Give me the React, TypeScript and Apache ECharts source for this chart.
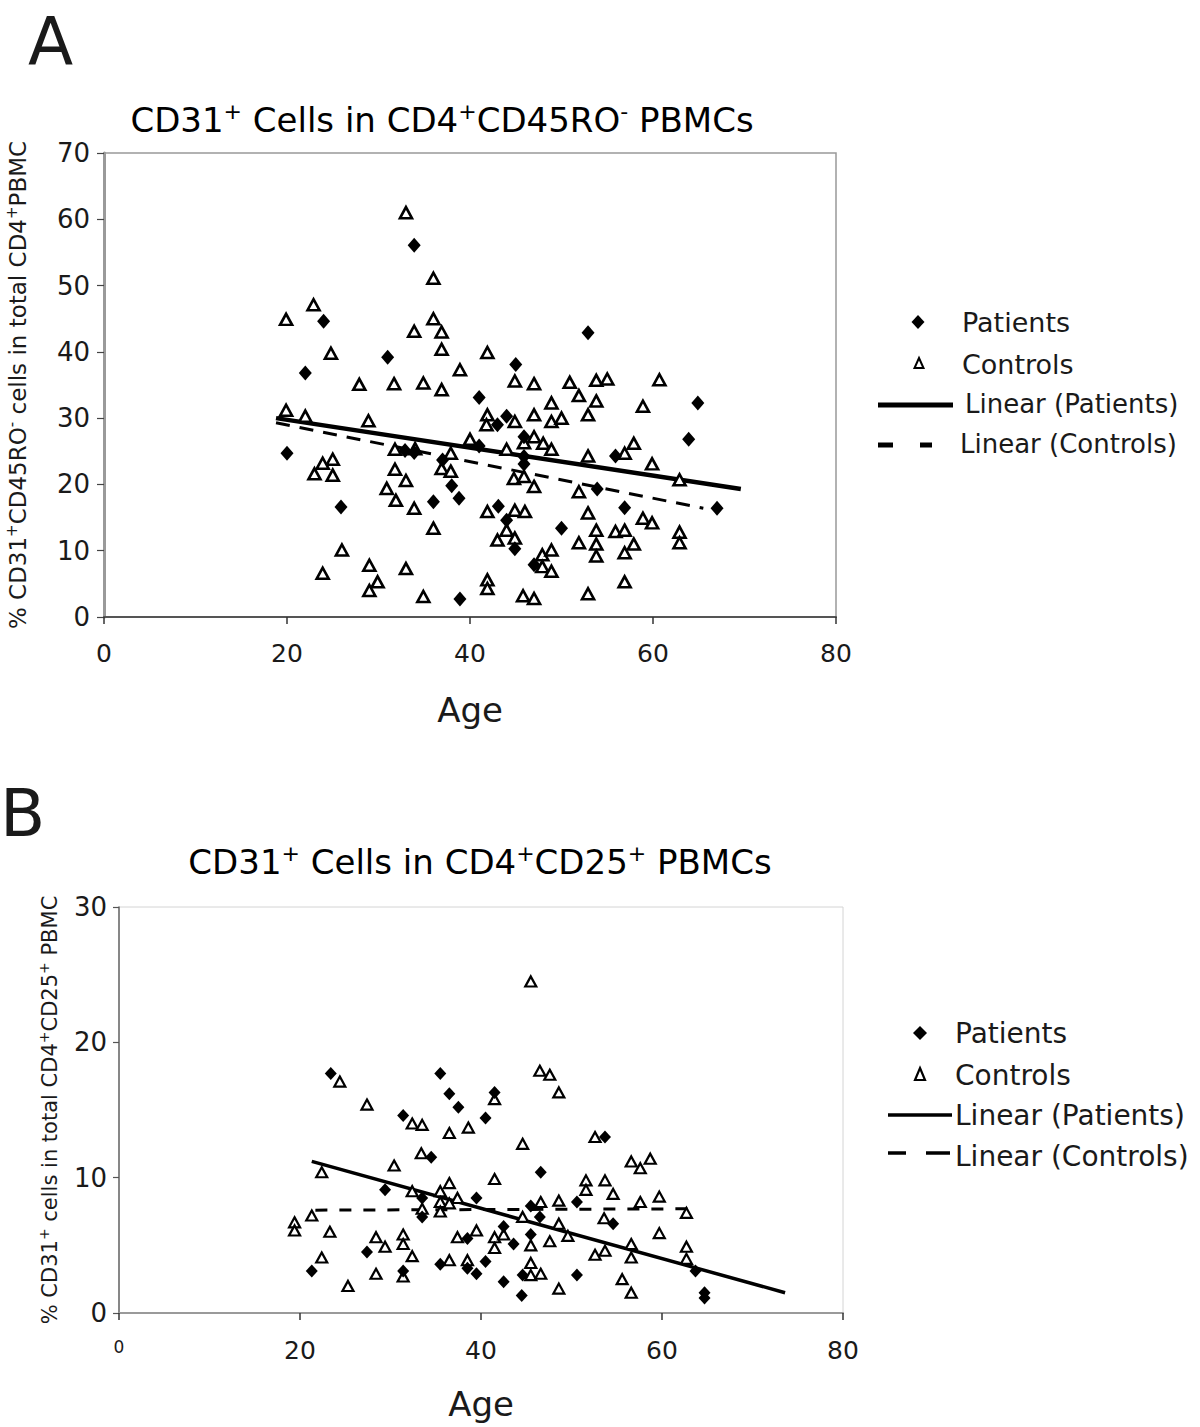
import React, { useEffect, useRef } from "react";
import * as echarts from "echarts";

// ---------- Panel A data: [age, % CD31+CD45RO- cells in total CD4+ PBMC] ----------
const aPatients: number[][] = [
  [33.9, 56.1], [24.0, 44.6], [31.0, 39.2], [22.0, 36.8], [20.0, 24.7], [32.9, 25.1], [33.9, 24.8],
  [25.9, 16.6], [36.0, 17.4], [38.0, 19.8], [38.9, 2.7], [52.9, 42.9], [45.0, 38.1], [41.0, 33.1],
  [44.0, 30.3], [43.0, 29.0], [41.0, 25.8], [45.9, 27.2], [45.9, 24.2], [45.9, 23.1], [55.9, 24.3],
  [53.9, 19.3], [38.8, 17.9], [43.1, 16.7], [56.9, 16.5], [44.0, 14.6], [44.9, 10.3], [50.0, 13.4],
  [47.0, 7.9], [64.9, 32.3], [63.9, 26.8], [67.0, 16.4], [37.0, 23.7],
];
const aControls: number[][] = [
  [33.0, 61.0], [36.0, 51.1], [22.9, 47.1], [19.9, 44.9], [36.0, 45.0], [33.9, 43.1], [36.9, 43.0],
  [24.8, 39.8], [36.9, 40.4], [38.9, 37.3], [27.9, 35.1], [31.7, 35.2], [34.9, 35.3], [36.9, 34.3],
  [19.9, 31.2], [22.0, 30.3], [28.9, 29.6], [31.8, 25.3], [34.0, 25.4], [37.9, 24.7], [25.0, 23.8],
  [23.9, 23.2], [23.0, 21.6], [25.0, 21.4], [31.8, 22.3], [33.0, 20.6], [36.9, 22.4], [37.9, 22.0],
  [30.9, 19.4], [31.9, 17.6], [33.9, 16.4], [36.0, 13.4], [26.0, 10.1], [23.9, 6.6], [29.0, 7.8],
  [33.0, 7.3], [29.9, 5.3], [29.0, 4.0], [34.9, 3.1],
  [41.9, 39.9], [44.9, 35.6], [47.0, 35.2], [50.9, 35.4], [53.8, 35.7], [55.0, 35.9], [60.7, 35.8],
  [48.9, 32.3], [51.9, 33.4], [53.8, 32.6], [58.9, 31.8], [41.9, 30.5], [44.9, 29.5], [41.8, 29.0],
  [47.0, 30.5], [48.9, 29.5], [50.0, 30.0], [52.9, 30.5], [40.0, 26.8], [44.0, 25.3], [47.0, 27.2],
  [48.0, 26.2], [48.9, 25.3], [45.9, 26.3], [44.8, 20.9], [45.9, 21.2], [47.0, 19.7], [52.9, 24.3],
  [56.9, 24.7], [57.9, 26.2], [59.9, 23.1], [51.9, 18.9], [41.9, 15.9], [44.9, 16.1], [46.0, 15.9],
  [52.9, 15.7], [58.9, 14.9], [59.9, 14.2], [44.0, 13.1], [43.0, 11.6], [44.9, 11.9], [51.9, 11.2],
  [53.8, 13.1], [53.8, 11.0], [53.8, 9.2], [55.9, 12.9], [56.9, 13.1], [57.9, 11.0], [56.9, 9.7],
  [47.9, 9.4], [48.9, 10.1], [47.9, 7.6], [48.9, 6.9], [41.9, 5.6], [41.9, 4.3], [45.8, 3.2],
  [47.0, 2.8], [52.9, 3.5], [56.9, 5.3], [62.9, 20.7], [62.9, 12.8], [62.9, 11.2],
];
const aTrendPatients: number[][] = [[18.8, 30.0], [69.6, 19.3]];
const aTrendControls: number[][] = [[18.8, 29.3], [65.5, 16.4]];

// ---------- Panel B data: [age, % CD31+ cells in total CD4+CD25+ PBMC] ----------
const bPatients: number[][] = [
  [23.4, 17.7], [31.4, 14.6], [35.5, 17.7], [36.5, 16.2], [37.5, 15.2], [40.5, 14.4], [41.5, 16.3],
  [53.7, 13.0], [34.5, 11.5], [29.4, 9.1], [33.5, 8.5], [39.5, 8.5], [33.5, 7.1], [38.5, 5.5],
  [27.4, 4.5], [21.3, 3.1], [31.4, 3.1], [35.5, 3.6], [38.5, 3.3], [40.5, 3.8], [39.5, 2.9],
  [46.6, 10.4], [50.6, 8.2], [45.5, 7.9], [46.5, 7.1], [54.6, 6.6], [42.5, 6.4], [45.5, 5.8],
  [43.6, 5.1], [63.7, 3.1], [44.6, 2.8], [42.5, 2.3], [50.6, 2.8], [44.5, 1.3], [64.7, 1.5], [64.7, 1.1],
];
const bControls: number[][] = [
  [24.4, 17.1], [27.4, 15.4], [32.4, 14.0], [33.5, 13.9], [36.5, 13.3], [38.6, 13.7], [41.5, 15.8],
  [45.5, 24.5], [46.5, 17.9], [47.6, 17.6], [48.6, 16.3], [52.6, 13.0], [22.4, 10.4], [30.4, 10.9],
  [33.4, 11.8], [32.4, 9.0], [35.5, 9.0], [36.5, 9.6], [37.4, 8.5], [35.5, 8.2], [36.5, 8.1],
  [33.5, 7.7], [35.5, 7.5], [41.5, 9.9], [19.4, 6.7], [19.4, 6.1], [21.3, 7.2], [23.3, 6.0],
  [28.4, 5.6], [31.4, 5.8], [31.4, 5.1], [29.4, 4.9], [37.4, 5.6], [39.5, 6.1], [41.5, 5.6],
  [41.5, 4.8], [32.4, 4.2], [22.4, 4.1], [28.4, 2.9], [31.4, 2.7], [25.3, 2.0], [36.5, 3.9],
  [38.5, 3.9], [44.6, 12.5], [56.6, 11.2], [57.6, 10.7], [58.7, 11.4], [51.6, 9.8], [51.6, 9.1],
  [53.7, 9.8], [54.6, 8.8], [48.6, 8.3], [46.6, 8.2], [57.6, 8.2], [59.7, 8.6], [62.7, 7.4],
  [44.6, 7.1], [48.6, 6.6], [53.6, 7.0], [42.5, 5.8], [45.5, 5.0], [47.6, 5.3], [49.6, 5.7],
  [59.7, 5.9], [56.6, 5.1], [53.7, 4.6], [52.6, 4.3], [56.6, 4.1], [62.7, 4.9], [62.7, 4.0],
  [45.5, 3.7], [45.5, 2.8], [46.6, 2.9], [55.6, 2.5], [48.6, 1.8], [56.6, 1.5],
];
const bTrendPatients: number[][] = [[21.3, 11.2], [73.6, 1.5]];
const bTrendControls: number[][] = [[21.7, 7.6], [63.7, 7.7]];

// ---------- axes ----------
const xMin = 0, xMax = 80, xStep = 20;
const aYMax = 70, aYStep = 10;
const bYMax = 30, bYStep = 10;

const legendLabels = ["Patients", "Controls", "Linear (Patients)", "Linear (Controls)"];
const titleA = "CD31{sup|+} Cells in CD4{sup|+}CD45RO{sup|-} PBMCs";
const titleB = "CD31{sup|+} Cells in CD4{sup|+}CD25{sup|+} PBMCs";
const yNameA = "% CD31{sup|+}CD45RO{sup|-} cells in total CD4{sup|+}PBMC";
const yNameB = "% CD31{sup|+} cells in total CD4{sup|+}CD25{sup|+} PBMC";

const FONT = "DejaVu Sans";
const INK = "#1a1a1a";

function supRich(size: number, supSize: number, lh: number) {
  return {
    n: { fontSize: size, fontFamily: FONT, color: INK, lineHeight: lh },
    sup: { fontSize: supSize, fontFamily: FONT, color: INK, lineHeight: supSize * 0.7, verticalAlign: "top" as const },
  };
}

function wrapN(s: string) {
  const parts = s.split(/(\{sup\|[^}]*\})/);
  return parts.map((p) => (p.startsWith("{sup|") ? p : p ? `{n|${p}}` : "")).join("");
}

export default function App() {
  const ref = useRef<HTMLDivElement>(null);
  useEffect(() => {
    if (!ref.current) return;
    const chart = echarts.init(ref.current, null, { renderer: "svg" });

    const diamondA = { symbol: "diamond", symbolSize: [13, 15], itemStyle: { color: "#000", opacity: 1 } };
    const triA = { symbol: "triangle", symbolSize: [12, 11], itemStyle: { color: "#fff", borderColor: "#000", borderWidth: 2.6, opacity: 1 } };
    const diamondB = { symbol: "diamond", symbolSize: [12, 13], itemStyle: { color: "#000", opacity: 1 } };
    const triB = { symbol: "triangle", symbolSize: [11, 10], itemStyle: { color: "#fff", borderColor: "#000", borderWidth: 2.2, opacity: 1 } };

    const xAxisBase = (gridIndex: number, lineColor: string, labelMargin: number, smallZero: boolean, nameGap: number) => ({
      type: "value" as const,
      gridIndex,
      min: xMin,
      max: xMax,
      interval: xStep,
      splitLine: { show: false },
      axisLine: { show: true, onZero: false, lineStyle: { color: lineColor, width: 2 } },
      axisTick: { show: true, inside: false, length: 7, lineStyle: { color: "#333", width: 1.5 } },
      axisLabel: {
        fontSize: 25,
        fontFamily: FONT,
        color: INK,
        margin: labelMargin,
        formatter: smallZero ? (v: number) => (v === 0 ? "{s|0}" : String(v)) : undefined,
        rich: smallZero ? { s: { fontSize: 17, fontFamily: FONT, color: INK } } : undefined,
      },
      name: "{n|Age}",
      nameLocation: "middle" as const,
      nameGap,
      nameTextStyle: { rich: { n: { fontSize: 34, fontFamily: FONT, color: INK } } },
    });

    const option: any = {
      animation: false,
      backgroundColor: "#fff",
      grid: [
        { left: 104, top: 153, width: 732, height: 464, show: true, borderColor: "#999", borderWidth: 1.5, backgroundColor: "#fff", outerBoundsMode: "none", containLabel: false },
        { left: 119, top: 907, width: 724, height: 406, show: true, borderColor: "#d4d4d4", borderWidth: 1, backgroundColor: "#fff", outerBoundsMode: "none", containLabel: false },
      ],
      xAxis: [xAxisBase(0, "#555", 24, false, 76), xAxisBase(1, "#9a9a9a", 25, true, 74)],
      yAxis: [
        {
          type: "value",
          gridIndex: 0,
          min: 0,
          max: aYMax,
          interval: aYStep,
          splitLine: { show: false },
          axisLine: { show: true, lineStyle: { color: "#9a9a9a", width: 3 } },
          axisTick: { show: true, length: 7, lineStyle: { color: "#444", width: 1.2 } },
          axisLabel: { fontSize: 26, fontFamily: FONT, color: INK, margin: 14 },
          name: wrapN(yNameA),
          nameLocation: "middle",
          nameGap: 72,
          nameRotate: 90,
          nameTextStyle: { rich: supRich(23, 15, 28) },
        },
        {
          type: "value",
          gridIndex: 1,
          min: 0,
          max: bYMax,
          interval: bYStep,
          splitLine: { show: false },
          axisLine: { show: true, lineStyle: { color: "#666", width: 1.5 } },
          axisTick: { show: true, length: 6, lineStyle: { color: "#555", width: 1.2 } },
          axisLabel: { fontSize: 26, fontFamily: FONT, color: INK, margin: 12 },
          name: wrapN(yNameB),
          nameLocation: "middle",
          nameGap: 56,
          nameRotate: 90,
          nameTextStyle: { rich: supRich(21, 14, 26) },
        },
      ],
      series: [
        { type: "line", name: legendLabels[2], xAxisIndex: 0, yAxisIndex: 0, data: aTrendPatients, showSymbol: false, symbol: "none", lineStyle: { color: "#000", width: 4.5 }, z: 3 },
        { type: "line", name: legendLabels[3], xAxisIndex: 0, yAxisIndex: 0, data: aTrendControls, showSymbol: false, symbol: "none", lineStyle: { color: "#000", width: 3, type: [14, 10] }, z: 3 },
        { type: "scatter", name: legendLabels[1], xAxisIndex: 0, yAxisIndex: 0, data: aControls, ...triA, z: 4 },
        { type: "scatter", name: legendLabels[0], xAxisIndex: 0, yAxisIndex: 0, data: aPatients, ...diamondA, z: 5 },
        { type: "line", name: legendLabels[2], xAxisIndex: 1, yAxisIndex: 1, data: bTrendPatients, showSymbol: false, symbol: "none", lineStyle: { color: "#000", width: 3.5 }, z: 3 },
        { type: "line", name: legendLabels[3], xAxisIndex: 1, yAxisIndex: 1, data: bTrendControls, showSymbol: false, symbol: "none", lineStyle: { color: "#000", width: 3, type: [12, 12] }, z: 3 },
        { type: "scatter", name: legendLabels[1], xAxisIndex: 1, yAxisIndex: 1, data: bControls, ...triB, z: 4 },
        { type: "scatter", name: legendLabels[0], xAxisIndex: 1, yAxisIndex: 1, data: bPatients, ...diamondB, z: 5 },
      ],
      graphic: [
        { type: "text", x: 28, y: 8, style: { text: "A", font: `66px '${FONT}'`, fill: INK } },
        { type: "text", x: 0, y: 780, style: { text: "B", font: `66px '${FONT}'`, fill: INK } },
        { type: "text", x: 442, y: 120, style: { text: wrapN(titleA), rich: supRich(34, 22, 40), align: "center", verticalAlign: "middle" } },
        { type: "text", x: 480, y: 862, style: { text: wrapN(titleB), rich: supRich(34, 22, 40), align: "center", verticalAlign: "middle" } },
        // legend A
        { type: "polygon", shape: { points: [[918, 315], [924.5, 322], [918, 329], [911.5, 322]] }, style: { fill: "#000" } },
        { type: "text", x: 962, y: 322, style: { text: legendLabels[0], font: `27px '${FONT}'`, fill: INK, verticalAlign: "middle" } },
        { type: "polygon", shape: { points: [[919, 358], [923.5, 368], [914.5, 368]] }, style: { fill: "#fff", stroke: "#000", lineWidth: 2 } },
        { type: "text", x: 962, y: 364, style: { text: legendLabels[1], font: `27px '${FONT}'`, fill: INK, verticalAlign: "middle" } },
        { type: "line", shape: { x1: 878, y1: 405, x2: 953, y2: 405 }, style: { stroke: "#000", lineWidth: 5 } },
        { type: "text", x: 965, y: 404, style: { text: legendLabels[2], font: `26px '${FONT}'`, fill: INK, verticalAlign: "middle" } },
        { type: "line", shape: { x1: 878, y1: 445, x2: 893, y2: 445 }, style: { stroke: "#000", lineWidth: 5 } },
        { type: "line", shape: { x1: 920, y1: 445, x2: 932, y2: 445 }, style: { stroke: "#000", lineWidth: 5 } },
        { type: "text", x: 960, y: 444, style: { text: legendLabels[3], font: `26px '${FONT}'`, fill: INK, verticalAlign: "middle" } },
        // legend B
        { type: "polygon", shape: { points: [[920, 1026], [927, 1033], [920, 1040], [913, 1033]] }, style: { fill: "#000" } },
        { type: "text", x: 955, y: 1033, style: { text: legendLabels[0], font: `28px '${FONT}'`, fill: INK, verticalAlign: "middle" } },
        { type: "polygon", shape: { points: [[920, 1068], [925, 1080], [915, 1080]] }, style: { fill: "#fff", stroke: "#000", lineWidth: 2.2 } },
        { type: "text", x: 955, y: 1075, style: { text: legendLabels[1], font: `28px '${FONT}'`, fill: INK, verticalAlign: "middle" } },
        { type: "line", shape: { x1: 888, y1: 1115, x2: 952, y2: 1115 }, style: { stroke: "#000", lineWidth: 3.5 } },
        { type: "text", x: 955, y: 1115, style: { text: legendLabels[2], font: `28px '${FONT}'`, fill: INK, verticalAlign: "middle" } },
        { type: "line", shape: { x1: 888, y1: 1153, x2: 906, y2: 1153 }, style: { stroke: "#000", lineWidth: 3.5 } },
        { type: "line", shape: { x1: 926, y1: 1153, x2: 950, y2: 1153 }, style: { stroke: "#000", lineWidth: 3.5 } },
        { type: "text", x: 955, y: 1156, style: { text: legendLabels[3], font: `28px '${FONT}'`, fill: INK, verticalAlign: "middle" } },
      ],
    };

    chart.setOption(option);
    return () => chart.dispose();
  }, []);

  return (
    <div
      ref={ref}
      style={{ position: "absolute", left: 0, top: 0, width: 1200, height: 1427, background: "#fff" }}
    />
  );
}
